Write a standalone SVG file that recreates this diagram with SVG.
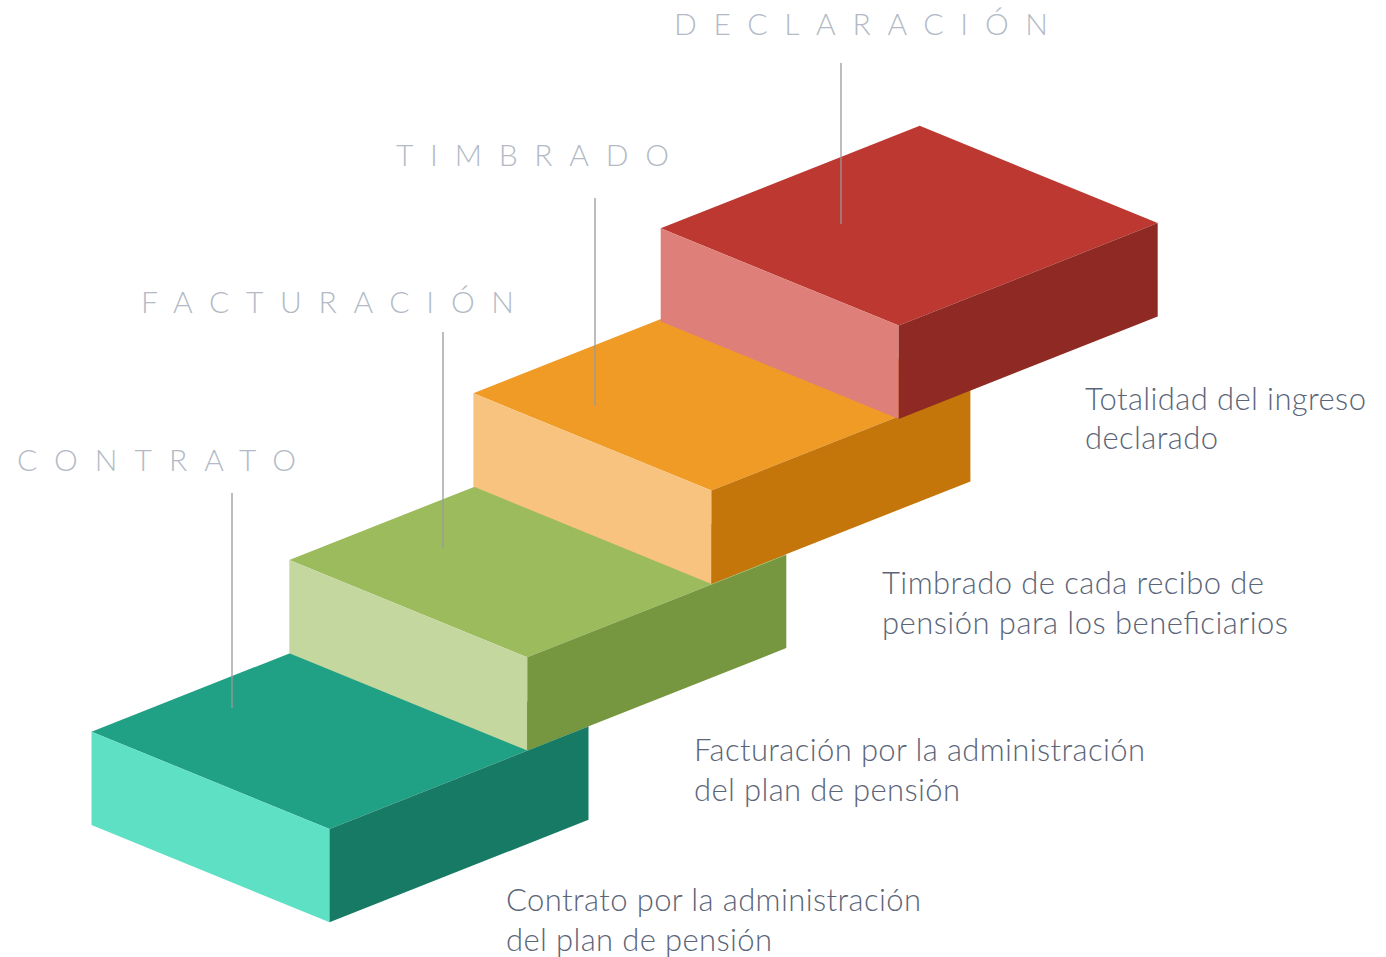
<svg xmlns="http://www.w3.org/2000/svg" width="1386" height="957" viewBox="0 0 1386 957">
<style>
.lbl{font-family:Lato,"Liberation Sans",sans-serif;font-weight:300;font-size:30px;fill:#b3bac6}
.cap{font-family:Lato,"Liberation Sans",sans-serif;font-weight:300;font-size:31px;fill:#5b6578}
.ln{stroke:#9a9a9a;stroke-width:1.3;fill:none}
</style>
<rect width="1386" height="957" fill="#ffffff"/>
<g id="step-contrato">
<polygon points="91.5,731.7 350.5,629.2 588.5,726.5 329.5,829" fill="#20a185"/>
<polygon points="91.5,731.7 329.5,829 329.5,922.3 91.5,825" fill="#5ee0c5"/>
<polygon points="329.5,829 588.5,726.5 588.5,819.8 329.5,922.3" fill="#167a64"/>
<text class="lbl" x="17" y="471" textLength="279" lengthAdjust="spacing">CONTRATO</text>
<text class="cap" x="506" y="911" textLength="415" lengthAdjust="spacing">Contrato por la administración</text>
<text class="cap" x="506" y="951" textLength="266" lengthAdjust="spacing">del plan de pensión</text>
</g>
<g id="step-facturacion">
<polygon points="289.3,560 548.3,457.5 786.3,554.8 527.3,657.3" fill="#9bbb5c"/>
<polygon points="289.3,560 527.3,657.3 527.3,750.6 289.3,653.3" fill="#c4d79e"/>
<polygon points="527.3,657.3 786.3,554.8 786.3,648.1 527.3,750.6" fill="#779640"/>
<text class="lbl" x="141" y="313" textLength="373" lengthAdjust="spacing">FACTURACIÓN</text>
<text class="cap" x="694" y="761" textLength="451" lengthAdjust="spacing">Facturación por la administración</text>
<text class="cap" x="694" y="801" textLength="266" lengthAdjust="spacing">del plan de pensión</text>
</g>
<g id="step-timbrado">
<polygon points="473.4,393.3 732.4,290.8 970.4,388.1 711.4,490.6" fill="#f19b27"/>
<polygon points="473.4,393.3 711.4,490.6 711.4,583.9 473.4,486.6" fill="#f7c37e"/>
<polygon points="711.4,490.6 970.4,388.1 970.4,481.4 711.4,583.9" fill="#c4760b"/>
<text class="lbl" x="396" y="166" textLength="273" lengthAdjust="spacing">TIMBRADO</text>
<text class="cap" x="882" y="594" textLength="382" lengthAdjust="spacing">Timbrado de cada recibo de</text>
<text class="cap" x="882" y="634" textLength="406" lengthAdjust="spacing">pensión para los beneficiarios</text>
</g>
<g id="step-declaracion">
<polygon points="660.7,228.3 919.7,125.8 1157.7,223.1 898.7,325.6" fill="#bc3830"/>
<polygon points="660.7,228.3 898.7,325.6 898.7,418.9 660.7,321.6" fill="#df7f79"/>
<polygon points="898.7,325.6 1157.7,223.1 1157.7,316.4 898.7,418.9" fill="#8e2a23"/>
<text class="lbl" x="674" y="35" textLength="374" lengthAdjust="spacing">DECLARACIÓN</text>
<text class="cap" x="1085" y="410" textLength="281" lengthAdjust="spacing">Totalidad del ingreso</text>
<text class="cap" x="1085" y="449" textLength="133" lengthAdjust="spacing">declarado</text>
</g>
<g id="connectors">
<line class="ln" x1="232" y1="493" x2="232" y2="708"/>
<line class="ln" x1="443" y1="332" x2="443" y2="548"/>
<line class="ln" x1="595" y1="198" x2="595" y2="406"/>
<line class="ln" x1="841" y1="63" x2="841" y2="224"/>
</g>
</svg>
